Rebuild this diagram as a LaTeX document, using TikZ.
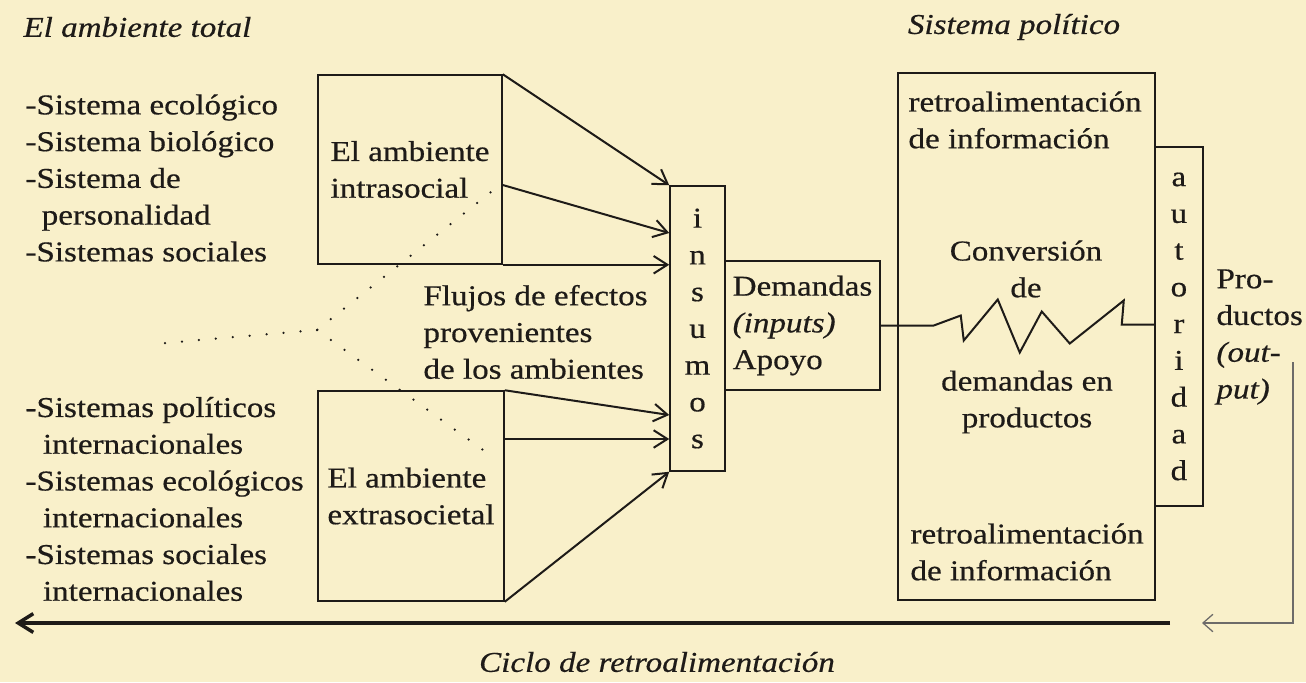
\documentclass[tikz,border=0pt]{standalone}
\usepackage{fontspec}
\setmainfont{Liberation Serif}[FakeStretch=1.15, FakeBold=0.5]
\usepackage{tikz}
\usetikzlibrary{arrows.meta, calc}
\definecolor{paper}{RGB}{249,240,202}
\definecolor{ink}{RGB}{30,27,24}
\tikzset{sysbox/.style={rectangle, draw=ink, line width=0.6pt, inner sep=0pt, align=left, text=ink}}
\tikzset{txt/.style={inner sep=0pt, align=left, text=ink}}
\tikzset{inarrow/.style={draw=ink, line width=0.8pt, -{Straight Barb[length=5.5pt, width=7pt]}}}
\tikzset{dotline/.style={draw=ink, line width=1pt, line cap=round, dash pattern=on 0pt off 6.8pt}}
\tikzset{cyclearrow/.style={draw=ink, line width=1.4pt, -{Straight Barb[length=6pt, width=7.5pt]}}}
\tikzset{retroarrow/.style={draw=ink!65, line width=0.5pt, -{Straight Barb[length=4pt, width=7pt]}}}

\begin{document}
\begin{tikzpicture}[x=0.4pt, y=-0.4pt, every node/.style={font=\fontsize{11.5}{14.7}\selectfont}]
    \fill[paper] (0,0) rectangle (1306,682);
    \useasboundingbox (0,0) rectangle (1306,682);

    \node[txt, anchor=west] (total) at (23,27) {\textit{El ambiente total}};
    \node[txt] (polit) at (1014,27) {\textit{Sistema político}};

    \node[txt, anchor=west] (intrlist) at (25,178) {-Sistema ecológico\\-Sistema biológico\\-Sistema de\\\hspace*{6.5pt}personalidad\\-Sistemas sociales};
    \node[txt, anchor=west] (extrlist) at (25,499) {-Sistemas políticos\\\hspace*{7pt}internacionales\\-Sistemas ecológicos\\\hspace*{7pt}internacionales\\-Sistemas sociales\\\hspace*{7pt}internacionales};

    \node[sysbox,
    minimum width = 73.6pt,
    minimum height = 75.6pt] (intra) at (410,169.5) {El ambiente\\intrasocial};

    \node[sysbox,
    minimum width = 74.4pt,
    minimum height = 84pt] (extra) at (411,496) {El ambiente\\extrasocietal};

    \node[txt, anchor=west] (flujos) at (423,332) {Flujos de efectos\\provenientes\\de los ambientes};

    \node[sysbox, align=center,
    minimum width = 22pt,
    minimum height = 114pt] (insumos) at (697.5,328.5) {i\\n\\s\\u\\m\\o\\s};

    \node[sysbox,
    minimum width = 62pt,
    minimum height = 51.6pt] (demandas) at (802.5,325.5) {Demandas\\\textit{(inputs)}\\Apoyo};

    \node[sysbox,
    minimum width = 102.8pt,
    minimum height = 210.8pt] (conv) at (1026.5,336.5) {};

    \node[txt, anchor=west] (retroup) at (908,120) {retroalimentación\\de información};
    \node[txt, align=center] (convtxt) at (1026,269) {Conversión\\de};
    \node[txt, align=center] (prodtxt) at (1027,402) {demandas en\\productos};
    \node[txt, anchor=west] (retrodown) at (910,552) {retroalimentación\\de información};

    \node[sysbox, align=center,
    minimum width = 19.2pt,
    minimum height = 143.6pt] (autor) at (1178.9,326.5) {a\\u\\t\\o\\r\\i\\d\\a\\d};

    \node[txt, anchor=west] (productos) at (1216,337) {Pro-\\ductos\\\textit{(out-}\\\textit{put)}};
    \node[txt] (ciclo) at (657,662) {\textit{Ciclo de retroalimentación}};

    \coordinate (ex2) at ([yshift=22.8pt]extra.east);
    \draw [inarrow] (intra.north east) -- (insumos.north west);
    \draw [inarrow] ([yshift=-6.2pt]intra.east) -- ([yshift=38.2pt]insumos.west);
    \draw [inarrow] (intra.south east) -- (intra.south east -| insumos.west);
    \draw [inarrow] (extra.north east) -- ([yshift=-34.6pt]insumos.west);
    \draw [inarrow] (ex2) -- (ex2 -| insumos.west);
    \draw [inarrow] (extra.south east) -- (insumos.south west);

    \draw [draw=ink, line width=0.8pt] (demandas.east) -- ++(53,0) -- ++(27,-10) -- ++(3,25) -- ++(34,-41) -- ++(22,53) -- ++(22,-41) -- ++(28,32) -- ++(54,-43) -- ++(-2,24) -- ++(34,0);

    \coordinate (dotl) at (165,343);
    \coordinate (dotm) at (317,330);
    \coordinate (dotu) at (491,192);
    \coordinate (dotd) at (490,455);
    \draw [dotline] (dotl) -- (dotm) -- (dotu);
    \draw [dotline] (dotm) -- (dotd);

    \coordinate (fbtop) at (1293,362);
    \coordinate (fbend) at (1202,623);
    \coordinate (cycr) at (1170,623);
    \coordinate (cycl) at (15,623);
    \draw [retroarrow] (fbtop) |- (fbend);
    \draw [cyclearrow] (cycr) -- (cycl);
\end{tikzpicture}
\end{document}
